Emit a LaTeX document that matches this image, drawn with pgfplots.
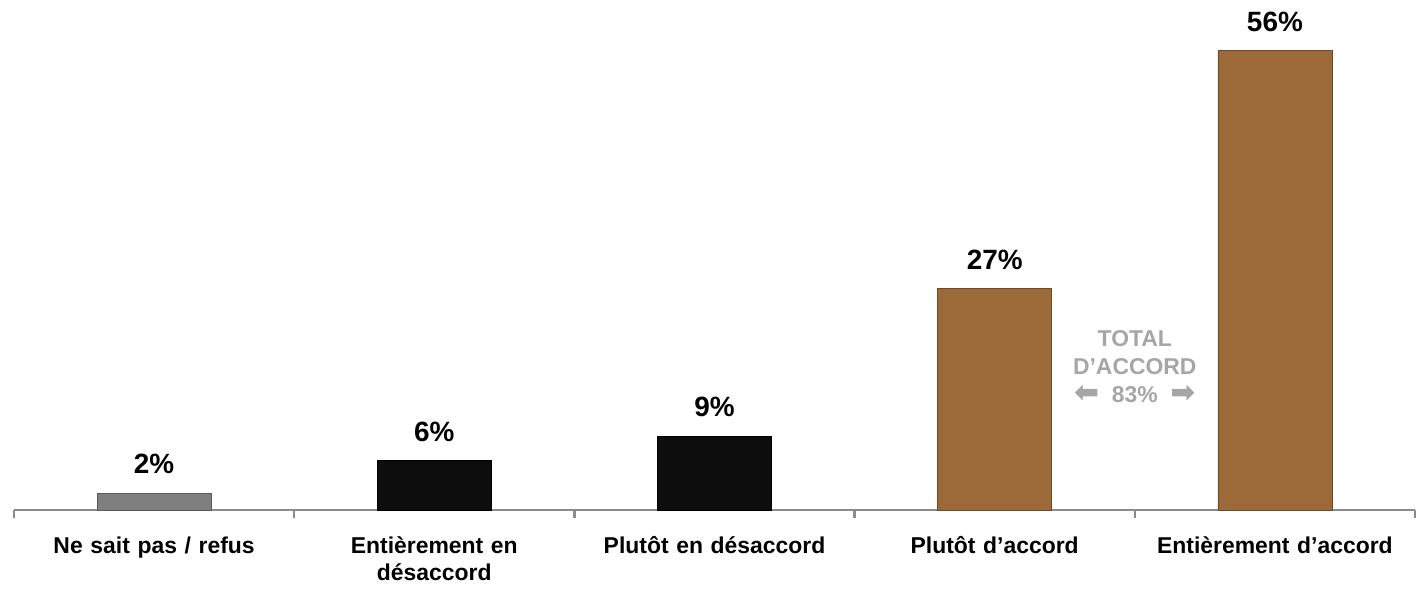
\documentclass[border=0pt]{standalone}
\usepackage{fontspec}
\setmainfont{Liberation Sans}
\newfontfamily\dejavu{DejaVu Sans}
\usepackage{pgfplots}
\pgfplotsset{compat=1.18}
\definecolor{barGray}{HTML}{7F7F7F}
\definecolor{barBlack}{HTML}{0D0D0D}
\definecolor{barBrown}{HTML}{9C6A38}
\definecolor{axGray}{HTML}{8C8C8C}
\definecolor{annGray}{HTML}{A6A6A6}
\begin{document}
\begin{tikzpicture}
\path[use as bounding box] (-7bp,-40bp) rectangle (701bp,255bp);
\begin{axis}[
 at={(0,0)}, anchor=south west,
 scale only axis, width=700.5bp, height=255bp,
 xmin=-0.5, xmax=4.5, ymin=0, ymax=62.2,
 axis x line*=bottom, axis y line=none,
 /pgf/number format/assume math mode=true,
 ybar, bar width=57bp,
 xtick={0,1,2,3,4},
 xticklabels={Ne sait pas / refus, {Entièrement en\\désaccord}, Plutôt en désaccord, Plutôt d'accord, Entièrement d'accord},
 major tick length=0pt,
 minor xtick={-0.5,0.5,1.5,2.5,3.5,4.5},
 minor tick length=4bp,
 tick align=outside,
 x axis line style={axGray, line width=1.2bp},
 every tick/.style={axGray, line width=1.2bp},
 xticklabel style={font=\bfseries\fontsize{11.5}{13.5}\selectfont, text width=130bp, align=center, anchor=north, inner sep=0pt, yshift=-13bp},
 nodes near coords={\pgfmathprintnumber{\pgfplotspointmeta}\%},
 nodes near coords style={font=\bfseries\fontsize{14}{16}\selectfont, anchor=south, inner sep=0pt, yshift=9.5bp, black},
 clip=false,
]
\addplot[fill=barGray, draw=barGray!70!black, line width=0.4bp, bar shift=0pt] coordinates {(0,2)};
\addplot[fill=barBlack, draw=black, line width=0.4bp, bar shift=0pt] coordinates {(1,6) (2,9)};
\addplot[fill=barBrown, draw=barBrown!70!black, line width=0.4bp, bar shift=0pt] coordinates {(3,27) (4,56)};
\node[annGray, font=\bfseries\fontsize{11.5}{14}\selectfont, align=center] at (axis cs:3.5,17.5) {TOTAL\\D’ACCORD\\{\dejavu\fontsize{15}{14}\selectfont ⬅}\ \ 83\%\ \ {\dejavu\fontsize{15}{14}\selectfont ➡}};
\end{axis}
\end{tikzpicture}
\end{document}
